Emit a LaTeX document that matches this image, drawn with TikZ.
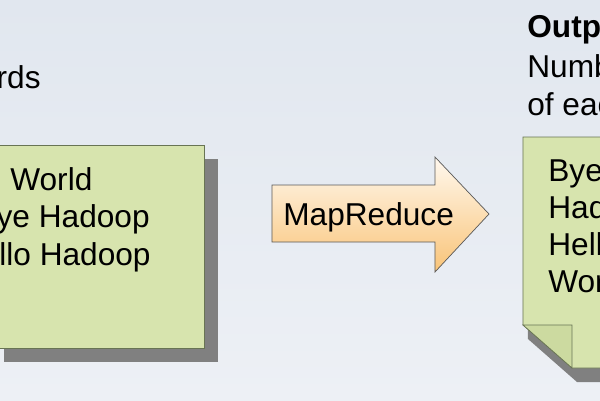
\documentclass[tikz,border=0pt]{standalone}
\usepackage{fontspec}
\setmainfont{Liberation Sans}
\usepackage{tikz}
\usetikzlibrary{calc}
\usepackage{xcolor}
\definecolor{slidetop}{RGB}{225,231,239}
\definecolor{slidebot}{RGB}{237,240,245}
\definecolor{notefill}{RGB}{215,228,174}
\definecolor{notefold}{RGB}{204,218,160}
\definecolor{noteline}{RGB}{104,116,84}
\definecolor{shadowgray}{RGB}{128,128,128}
\definecolor{arrowtop}{RGB}{255,248,238}
\definecolor{arrowbot}{RGB}{249,196,120}
\newcommand{\slidefont}{\fontsize{18}{21.9}\selectfont}
\newcommand{\linegap}{37.5}

\begin{document}
\begin{tikzpicture}[x=0.02cm,y=-0.02cm]
	\coordinate (O) at (0,0);
	
	\useasboundingbox (0,0) rectangle (600,400);
	\clip (0,0) rectangle (600,400);
	\shade[top color=slidetop,bottom color=slidebot] (0,0) rectangle (600,400);
	
	% input note
	\fill[shadowgray] ($(O)+(4,159)$) rectangle ($(O)+(218,362)$);
	\draw[noteline,fill=notefill] ($(O)+(-10,145)$) rectangle ($(O)+(204,348)$);
	\draw ($(O)+(41,88)$) node[anchor=base east,font=\slidefont,inner sep=0pt] (words) {words};
	\draw ($(O)+(10,190)$) node[anchor=base west,font=\slidefont,inner sep=0pt] (l1) {World};
	\draw ($(O)+(150,190+\linegap)$) node[anchor=base east,font=\slidefont,inner sep=0pt] (l2) {Bye Hadoop};
	\draw ($(O)+(151,190+2*\linegap)$) node[anchor=base east,font=\slidefont,inner sep=0pt] (l3) {Hello Hadoop};
	
	% arrow
	\shade[top color=arrowtop,bottom color=arrowbot,draw=gray!70!black]
		($(O)+(272,185)$) -- ($(O)+(435,185)$) -- ($(O)+(435,157)$) -- ($(O)+(489,214)$)
		-- ($(O)+(435,272)$) -- ($(O)+(435,242)$) -- ($(O)+(272,242)$) -- cycle;
	\draw ($(O)+(283,225)$) node[anchor=base west,font=\slidefont,inner sep=0pt] (mr) {MapReduce};
	
	% output note
	\fill[shadowgray] ($(O)+(528,150)$) -- ($(O)+(640,150)$) -- ($(O)+(640,382)$) -- ($(O)+(577,382)$) -- ($(O)+(528,339)$) -- cycle;
	\draw[noteline,fill=notefill] ($(O)+(523,137)$) -- ($(O)+(640,137)$) -- ($(O)+(640,368)$) -- ($(O)+(572,368)$) -- ($(O)+(523,325)$) -- cycle;
	\draw[noteline,fill=notefold] ($(O)+(523,325)$) -- ($(O)+(572,325)$) -- ($(O)+(572,368)$) -- cycle;
	
	\draw ($(O)+(527,37)$) node[anchor=base west,font=\slidefont\bfseries,inner sep=0pt] (out) {Output};
	\draw ($(O)+(527,77)$) node[anchor=base west,font=\slidefont,inner sep=0pt] (num) {Number};
	\draw ($(O)+(527,115)$) node[anchor=base west,font=\slidefont,inner sep=0pt] (each) {of each};
	
	\foreach \w [count=\i from 0] in {Bye,Hadoop,Hello,World}
		\draw ($(O)+(548,181+\i*37)$) node[anchor=base west,font=\slidefont,inner sep=0pt] (r\i) {\w};
	\end{tikzpicture}
\end{document}
